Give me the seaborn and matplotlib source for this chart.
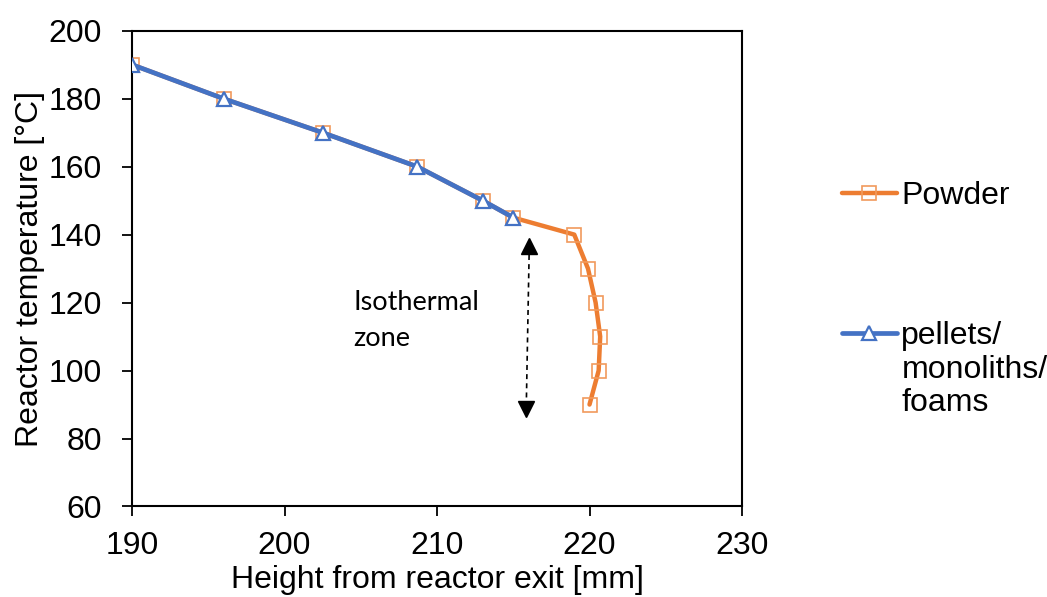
import matplotlib
matplotlib.use("Agg")
import matplotlib.pyplot as plt
import seaborn as sns

# Temperature profile along the reactor
temp_powder = [190, 180, 170, 160, 150, 145, 140, 130, 120, 110, 100, 90]
height_powder = [190, 196, 202.5, 208.7, 213, 215, 219, 219.9, 220.4, 220.7, 220.6, 220]

temp_pellets = [190, 180, 170, 160, 150, 145]
height_pellets = [190, 196, 202.5, 208.7, 213, 215]

x_ticks = [190, 200, 210, 220, 230]
y_ticks = [60, 80, 100, 120, 140, 160, 180, 200]

# Isothermal-zone double arrow (height, temperature)
arrow_x = [216.05, 215.85]
arrow_y = [136.7, 88.7]

ORANGE = "#ED7D31"
BLUE = "#4472C4"
FS = 23

sns.set_theme(style="white")
plt.rcParams["font.family"] = ["Liberation Sans", "DejaVu Sans"]
plt.rcParams["text.color"] = "black"

fig = plt.figure(figsize=(10.47, 5.97), dpi=100)
ax = fig.add_axes([0.1261, 0.1516, 0.5826, 0.797])

sns.lineplot(x=height_powder, y=temp_powder, sort=False, estimator=None,
             color=ORANGE, linewidth=3.2, marker="s", markersize=10.5,
             markerfacecolor="none", markeredgecolor="#F19A5C",
             markeredgewidth=1.2, label="Powder", ax=ax, zorder=2)
sns.lineplot(x=height_pellets, y=temp_pellets, sort=False, estimator=None,
             color=BLUE, linewidth=3.4, marker="^", markersize=10.5,
             markerfacecolor="white", markeredgecolor=BLUE,
             markeredgewidth=1.6, label="pellets/",
             ax=ax, zorder=3)

# dashed double arrow marking the isothermal zone
ax.plot(arrow_x, arrow_y, color="black", linestyle=(0, (3, 2.5)),
        linewidth=1.2, zorder=1)
ax.plot(arrow_x[0], arrow_y[0], marker="^", color="black", markersize=11,
        linestyle="none", zorder=1)
ax.plot(arrow_x[1], arrow_y[1], marker="v", color="black", markersize=11,
        linestyle="none", zorder=1)

ax.text(204.5, 123.7, "Isothermal\nzone", fontsize=19.5, family=["Lato", "DejaVu Sans"],
        va="top", ha="left", linespacing=1.55, color="black")

ax.set_xlim(190, 230)
ax.set_ylim(60, 200)
ax.set_xticks(x_ticks)
ax.set_yticks(y_ticks)
ax.tick_params(axis="both", direction="out", length=7.5, width=1.3,
               labelsize=FS, colors="black", bottom=True, left=True)
ax.tick_params(axis="y", pad=14)
ax.tick_params(axis="x", pad=10)

for sp in ax.spines.values():
    sp.set_visible(True)
    sp.set_color("black")
    sp.set_linewidth(1.5)

ax.set_xlabel("Height from reactor exit [mm]", fontsize=FS, color="black", labelpad=3)
ax.set_ylabel("Reactor temperature [°C]", fontsize=FS, color="black", labelpad=3)

handles, labels = ax.get_legend_handles_labels()
leg = ax.legend(handles, labels, loc="upper left", bbox_to_anchor=(0.777, 0.745),
                bbox_transform=fig.transFigure, frameon=False, fontsize=FS,
                labelcolor="black", handlelength=1.7, handletextpad=0.15,
                labelspacing=3.45)

# continuation of the second legend label, drawn after the legend
ax.annotate("monoliths/\nfoams", xy=(0, 0), xycoords=leg.texts[1],
            xytext=(0, -3), textcoords="offset points", va="top", ha="left",
            fontsize=FS, linespacing=1.12, color="black", zorder=6)

fig.savefig("out.png", dpi=100)
